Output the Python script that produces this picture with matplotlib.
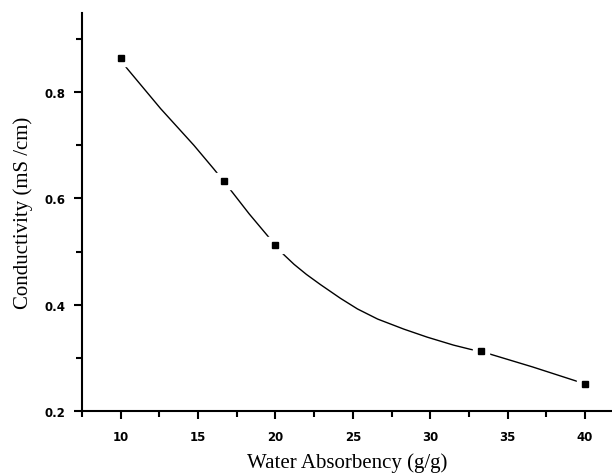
import matplotlib
matplotlib.use('Agg')
import matplotlib.pyplot as plt
from matplotlib.ticker import MultipleLocator

# measured points
water_abs = [10, 16.67, 20, 33.3, 40]
conductivity = [0.864, 0.632, 0.512, 0.312, 0.251]

# smoothed curve
curve_x = [10.0, 10.43, 12.58, 14.73, 16.0, 16.67, 18.3, 20.0, 20.4, 21.2, 22.0,
           22.9, 24.2, 25.3, 26.6, 28.3, 29.8, 31.5, 32.6, 33.3, 36.6, 40.0]
curve_y = [0.860, 0.844, 0.769, 0.700, 0.656, 0.632, 0.571, 0.512, 0.498, 0.476, 0.457,
           0.438, 0.412, 0.392, 0.373, 0.354, 0.339, 0.324, 0.316, 0.312, 0.283, 0.251]

fig = plt.figure(figsize=(6.12, 4.77), dpi=100)
ax = fig.add_axes([82/612, 65/477, 530/612, 398/477])

ax.plot(curve_x, curve_y, color='black', lw=1.0, zorder=1)
# white halo so the line stops short of each point
ax.plot(water_abs, conductivity, 's', color='white', ms=11, zorder=2)
ax.plot(water_abs, conductivity, 's', color='black', ms=5, zorder=3)

ax.set_xlim(7.5, 41.74)
ax.set_ylim(0.2, 0.949)
ax.xaxis.set_major_locator(MultipleLocator(5))
ax.xaxis.set_minor_locator(MultipleLocator(2.5))
ax.yaxis.set_major_locator(MultipleLocator(0.2))
ax.yaxis.set_minor_locator(MultipleLocator(0.1))

for side in ['top', 'right']:
    ax.spines[side].set_visible(False)
for side in ['left', 'bottom']:
    ax.spines[side].set_linewidth(1.5)

ax.tick_params(which='major', direction='out', length=6, width=1.5)
ax.tick_params(which='minor', direction='out', length=4, width=1.5)
for lab in ax.get_xticklabels() + ax.get_yticklabels():
    lab.set_fontweight('bold')
    lab.set_fontsize(8.5)
ax.tick_params(axis='x', pad=8)
ax.tick_params(axis='y', pad=6)

ax.set_xlabel('Water Absorbency (g/g)', family='Liberation Serif', fontsize=15, labelpad=6)
ax.set_ylabel('Conductivity (mS /cm)', family='Liberation Serif', fontsize=15, labelpad=8)

fig.savefig('out.png', dpi=100)
